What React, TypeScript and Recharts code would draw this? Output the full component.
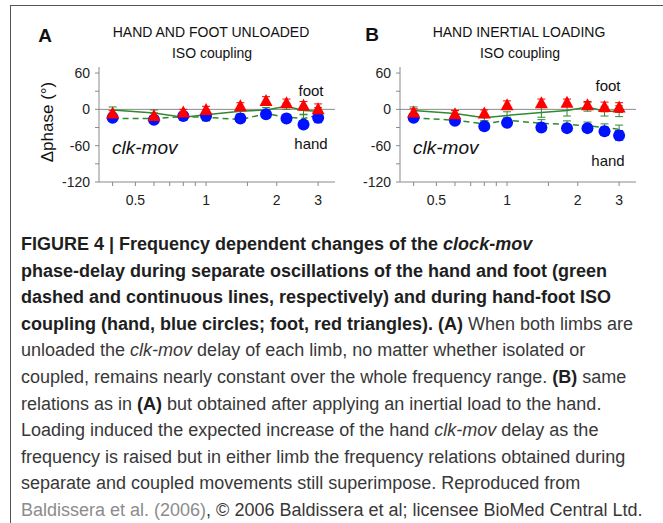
import React from "react";
import {
  ScatterChart,
  Scatter,
  XAxis,
  YAxis,
  ErrorBar,
  ReferenceLine,
} from "recharts";

// movement frequency (Hz)
const FREQ = [0.4, 0.6, 0.8, 1.0, 1.4, 1.8, 2.2, 2.6, 3.0];

// panel A: hand and foot unloaded
const footIsoA = [-7, -11, -5, -1, 5, 14, 10, 6, 0];
const footIsoErrA = [5, 5, 5, 6, 6, 7, 7, 7, 9];
const handIsoA = [-14, -17, -11, -11, -15, -8, -15, -25, -14];
const handIsoErrA = [4, 4, 5, 6, 5, 4, 5, 5, 8];
const footAloneA = [-1, -6, -13, -9, -3, -1, 5, -2, -3];
const footAloneErrA = [5, 5, 4, 4, 4, 4, 5, 6, 6];
const handAloneA = [-15, -15, -12, -13, -17, -7, -13, -15, -10];
const handAloneErrA = [4, 4, 5, 6, 4, 4, 5, 6, 6];

// panel B: hand inertial loading
const footIsoB = [-5, -8, -7, 7, 10, 11, 7, 4, 3];
const footIsoErrB = [6, 6, 6, 7, 7, 6, 6, 8, 8];
const handIsoB = [-14, -19, -28, -22, -30, -31, -31, -36, -43];
const handIsoErrB = [4, 5, 5, 6, 6, 6, 6, 7, 8];
const footAloneB = [-2, -7, -14, -10, -5, -2, 4, -3, -3];
const footAloneErrB = [6, 5, 5, 6, 8, 9, 7, 8, 9];
const handAloneB = [-14, -18, -24, -18, -23, -25, -27, -30, -33];
const handAloneErrB = [4, 4, 5, 5, 6, 6, 6, 6, 7];

const X_TICKS = [0.4, 0.5, 0.6, 0.7, 0.8, 0.9, 1, 1.5, 2, 3];
const X_LABELS = [0.5, 1, 2, 3];
const Y_TICKS = [-120, -90, -60, -30, 0, 30, 60];

const CAPTION = [
  [["b", "FIGURE 4 | Frequency dependent changes of the "], ["bi", "clock-mov"]],
  [["b", "phase-delay during separate oscillations of the hand and foot (green"]],
  [["b", "dashed and continuous lines, respectively) and during hand-foot ISO"]],
  [["b", "coupling (hand, blue circles; foot, red triangles). (A)"], ["r", " When both limbs are"]],
  [["r", "unloaded the "], ["i", "clk-mov"], ["r", " delay of each limb, no matter whether isolated or"]],
  [["r", "coupled, remains nearly constant over the whole frequency range. "], ["b", "(B)"], ["r", " same"]],
  [["r", "relations as in "], ["b", "(A)"], ["r", " but obtained after applying an inertial load to the hand."]],
  [["r", "Loading induced the expected increase of the hand "], ["i", "clk-mov"], ["r", " delay as the"]],
  [["r", "frequency is raised but in either limb the frequency relations obtained during"]],
  [["r", "separate and coupled movements still superimpose. Reproduced from"]],
  [["g", "Baldissera et al. (2006)"], ["r", ", \u00a9 2006 Baldissera et al; licensee BioMed Central Ltd."]],
];

const GREEN = "#2f8a2f";
const RED = "#ff0000";
const BLUE = "#0011ff";
const AXIS = "#8a8a8a";
const FONT = "'Liberation Sans', Arial, Helvetica, sans-serif";

const toRows = (ys: number[], es: number[]) =>
  FREQ.map((f, i) => ({ f, y: ys[i], e: es[i] }));

const Circle = (p: any) => <circle cx={p.cx} cy={p.cy} r={6} fill={BLUE} />;
const Triangle = (p: any) => (
  <polygon
    points={`${p.cx},${p.cy - 7} ${p.cx - 6.5},${p.cy + 5} ${p.cx + 6.5},${p.cy + 5}`}
    fill={RED}
  />
);
const NoDot = () => <g />;

function Panel({ left, footIso, footIsoErr, handIso, handIsoErr, footAlone, footAloneErr, handAlone, handAloneErr }: any) {
  return (
    <div style={{ position: "absolute", left, top: 0 }}>
      <ScatterChart width={340} height={230} margin={{ top: 67, right: 5, bottom: 18, left: 59 }}>
        <XAxis
          type="number"
          dataKey="f"
          scale="log"
          domain={[0.35, 3.54]}
          allowDataOverflow
          ticks={X_TICKS}
          interval={0}
          tickFormatter={(v: number) => (X_LABELS.includes(v) ? String(v) : "")}
          tickSize={4}
          tickMargin={9}
          axisLine={{ stroke: AXIS }}
          tickLine={{ stroke: AXIS }}
          tick={{ fill: "#222", fontSize: 14, fontFamily: FONT }}
          height={30}
        />
        <YAxis
          type="number"
          dataKey="y"
          domain={[-120, 70]}
          ticks={Y_TICKS}
          interval={0}
          tickFormatter={(v: number) => (v % 60 === 0 ? String(v) : "")}
          tickSize={4}
          tickMargin={5}
          axisLine={{ stroke: AXIS }}
          tickLine={{ stroke: AXIS }}
          tick={{ fill: "#222", fontSize: 14, fontFamily: FONT }}
          width={40}
        />
        <ReferenceLine y={0} stroke={AXIS} strokeWidth={1} />
        <Scatter
          data={toRows(footAlone, footAloneErr)}
          line={{ stroke: GREEN, strokeWidth: 1.5 }}
          shape={NoDot}
          isAnimationActive={false}
        >
          <ErrorBar dataKey="e" direction="y" width={4} stroke={GREEN} strokeWidth={1} />
        </Scatter>
        <Scatter
          data={toRows(handAlone, handAloneErr)}
          line={{ stroke: GREEN, strokeWidth: 1.5, strokeDasharray: "6 4" }}
          shape={NoDot}
          isAnimationActive={false}
        >
          <ErrorBar dataKey="e" direction="y" width={4} stroke={GREEN} strokeWidth={1} />
        </Scatter>
        <Scatter data={toRows(handIso, handIsoErr)} shape={Circle} isAnimationActive={false}>
          <ErrorBar dataKey="e" direction="y" width={4} stroke={BLUE} strokeWidth={1} />
        </Scatter>
        <Scatter data={toRows(footIso, footIsoErr)} shape={Triangle} isAnimationActive={false}>
          <ErrorBar dataKey="e" direction="y" width={4} stroke={RED} strokeWidth={1} />
        </Scatter>
      </ScatterChart>
    </div>
  );
}

function Txt({ x, y, size = 14, weight = 400, italic = false, anchor = "center", rotate = 0, children }: any) {
  const tx = anchor === "center" ? "-50%" : "0";
  return (
    <div
      style={{
        position: "absolute",
        left: x,
        top: y,
        transform: `translate(${tx}, -50%) rotate(${rotate}deg)`,
        fontFamily: FONT,
        fontSize: size,
        fontWeight: weight,
        fontStyle: italic ? "italic" : "normal",
        lineHeight: 1,
        whiteSpace: "nowrap",
        color: "#111",
      }}
    >
      {children}
    </div>
  );
}

const segStyle = (k: string): React.CSSProperties => ({
  fontWeight: k === "b" || k === "bi" ? 700 : 400,
  fontStyle: k === "i" || k === "bi" ? "italic" : "normal",
  color: k === "g" ? "#8c8c8c" : k === "b" || k === "bi" ? "#1e1e1e" : "#383838",
});

export default function App() {
  return (
    <div style={{ position: "absolute", left: 0, top: 0, width: 663, height: 523, background: "#fff", overflow: "hidden" }}>
      <div style={{ position: "absolute", left: 10, top: 5, width: 660, height: 530, borderTop: "1px solid #555", borderLeft: "1px solid #555" }} />

      <Panel
        left={0}
        footIso={footIsoA}
        footIsoErr={footIsoErrA}
        handIso={handIsoA}
        handIsoErr={handIsoErrA}
        footAlone={footAloneA}
        footAloneErr={footAloneErrA}
        handAlone={handAloneA}
        handAloneErr={handAloneErrA}
      />
      <Panel
        left={301}
        footIso={footIsoB}
        footIsoErr={footIsoErrB}
        handIso={handIsoB}
        handIsoErr={handIsoErrB}
        footAlone={footAloneB}
        footAloneErr={footAloneErrB}
        handAlone={handAloneB}
        handAloneErr={handAloneErrB}
      />

      <Txt x={45} y={35} size={19} weight={700}>A</Txt>
      <Txt x={211} y={32} size={14}>HAND AND FOOT UNLOADED</Txt>
      <Txt x={212} y={53} size={14}>ISO coupling</Txt>
      <Txt x={47} y={122} size={17} rotate={-90}>Δphase (°)</Txt>
      <Txt x={311} y={90} size={15}>foot</Txt>
      <Txt x={311} y={143} size={15}>hand</Txt>
      <Txt x={112} y={147} size={19} italic anchor="left">clk-mov</Txt>

      <Txt x={372} y={34} size={19} weight={700}>B</Txt>
      <Txt x={519} y={32} size={14}>HAND INERTIAL LOADING</Txt>
      <Txt x={520} y={53} size={14}>ISO coupling</Txt>
      <Txt x={608} y={85} size={15}>foot</Txt>
      <Txt x={608} y={160} size={15}>hand</Txt>
      <Txt x={413} y={147} size={19} italic anchor="left">clk-mov</Txt>

      <div style={{ position: "absolute", left: 21, top: 231, fontFamily: FONT, fontSize: 18 }}>
        {CAPTION.map((line, i) => (
          <div key={i} style={{ height: 26.6, lineHeight: "26.6px", whiteSpace: "nowrap" }}>
            {line.map(([k, t], j) => (
              <span key={j} style={segStyle(k)}>{t}</span>
            ))}
          </div>
        ))}
      </div>
    </div>
  );
}
